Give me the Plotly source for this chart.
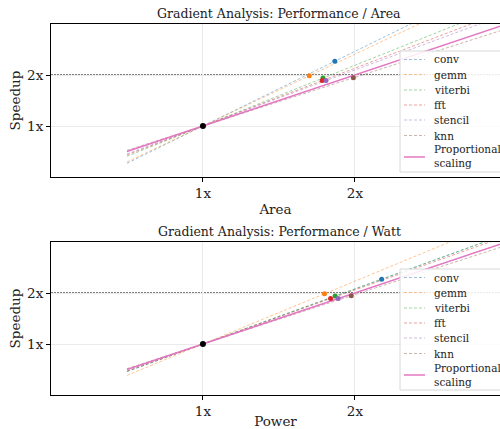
import numpy as np
import plotly.graph_objects as go

benchmarks = ["conv", "gemm", "viterbi", "fft", "stencil", "knn"]
colors = ["#1f77b4", "#ff7f0e", "#2ca02c", "#d62728", "#9467bd", "#8c564b"]
speedup = [2.27, 1.985, 1.94, 1.89, 1.89, 1.945]
area_ratio = [1.868, 1.70, 1.79, 1.785, 1.81, 1.99]
power_ratio = [2.176, 1.80, 1.87, 1.84, 1.89, 1.976]
tick_vals = [1, 2]
tick_text = ["1x", "2x"]
line_x = [0.5, 3.0]
target_speedup = 2.0
prop_color = "#e377c2"
prop_label = "Proportional<br>scaling"

FONT = "DejaVu Serif"
W, H = 500, 429
ML, MR, MT, MB = 51, 0, 24, 34
PW, PH = W - ML - MR, H - MT - MB
LINE_ALPHA = 0.45


def px2paper_x(px):
    return (px - ML) / PW


def px2paper_y(py):
    return (H - MB - py) / PH


fig = go.Figure()


def rgba(hexc, a):
    h = hexc.lstrip("#")
    r, g, b = int(h[0:2], 16), int(h[2:4], 16), int(h[4:6], 16)
    return f"rgba({r},{g},{b},{a})"


def add_panel(ratios, xa, ya):
    xs = np.array(line_x)
    for name, c, s, r in zip(benchmarks, colors, speedup, ratios):
        slope = (s - 1.0) / (r - 1.0)
        ys = 1.0 + slope * (xs - 1.0)
        fig.add_trace(go.Scatter(
            x=xs, y=ys, mode="lines", name=name, showlegend=False,
            line=dict(color=rgba(c, LINE_ALPHA), width=1, dash="3px,2px"),
            xaxis=xa, yaxis=ya))
    fig.add_trace(go.Scatter(
        x=xs, y=xs, mode="lines", name="Proportional scaling", showlegend=False,
        line=dict(color=prop_color, width=1.5),
        xaxis=xa, yaxis=ya))
    for name, c, s, r in zip(benchmarks, colors, speedup, ratios):
        fig.add_trace(go.Scatter(
            x=[r], y=[s], mode="markers", showlegend=False,
            marker=dict(color=c, size=5),
            xaxis=xa, yaxis=ya))
    fig.add_trace(go.Scatter(
        x=[1], y=[1], mode="markers", showlegend=False,
        marker=dict(color="black", size=6),
        xaxis=xa, yaxis=ya))


add_panel(area_ratio, "x", "y")
add_panel(power_ratio, "x2", "y2")

shapes = []
annotations = []

# reference line at target speedup
for xr, yr in (("x domain", "y"), ("x2 domain", "y2")):
    shapes.append(dict(type="line", xref=xr, yref=yr, x0=0, x1=1,
                       y0=target_speedup, y1=target_speedup,
                       line=dict(color="rgba(0,0,0,0.5)", width=2, dash="2px,1px"),
                       layer="below"))

# hand-built legends (one per panel), matching matplotlib's compact layout
for off in (0, 218):
    top, bot = 51 + off, 172 + off
    shapes.append(dict(type="rect", xref="paper", yref="paper",
                       x0=px2paper_x(400), x1=px2paper_x(510),
                       y0=px2paper_y(bot), y1=px2paper_y(top),
                       fillcolor="rgba(255,255,255,0.85)",
                       line=dict(color="#d8d8d8", width=1), layer="above"))
    item_y = [59.5, 74.5, 90, 105, 120, 135.5]
    for name, c, yy in zip(benchmarks, colors, item_y):
        shapes.append(dict(type="line", xref="paper", yref="paper",
                           x0=px2paper_x(404), x1=px2paper_x(425),
                           y0=px2paper_y(yy + off), y1=px2paper_y(yy + off),
                           line=dict(color=rgba(c, LINE_ALPHA), width=1, dash="3px,2px"),
                           layer="above"))
        annotations.append(dict(text=name, xref="paper", yref="paper",
                                x=px2paper_x(432), y=px2paper_y(yy + off),
                                xanchor="left", yanchor="middle", showarrow=False,
                                font=dict(family=FONT, size=10.5, color="#222")))
    shapes.append(dict(type="line", xref="paper", yref="paper",
                       x0=px2paper_x(404), x1=px2paper_x(425),
                       y0=px2paper_y(157 + off), y1=px2paper_y(157 + off),
                       line=dict(color=prop_color, width=1.5), layer="above"))
    annotations.append(dict(text=prop_label, xref="paper", yref="paper",
                            x=px2paper_x(432), y=px2paper_y(156.5 + off),
                            xanchor="left", yanchor="middle", showarrow=False,
                            align="left",
                            font=dict(family=FONT, size=10.5, color="#222")))

axis_common = dict(
    tickvals=tick_vals, ticktext=tick_text,
    showgrid=True, gridcolor="#ebebeb", gridwidth=1,
    showline=True, linecolor="black", linewidth=1,
    ticks="outside", ticklen=4, tickcolor="black",
    zeroline=False, automargin=False,
    tickfont=dict(family=FONT, size=13.5, color="#222"),
)

top_dom = [px2paper_y(177), 1.0]
bot_dom = [0.0, px2paper_y(242)]

annotations += [
    dict(text="Gradient Analysis: Performance / Area", xref="paper", yref="paper",
         x=px2paper_x(279), y=top_dom[1], xanchor="center", yanchor="bottom", yshift=1,
         showarrow=False, font=dict(family=FONT, size=12.5, color="#222")),
    dict(text="Gradient Analysis: Performance / Watt", xref="paper", yref="paper",
         x=px2paper_x(279), y=bot_dom[1], xanchor="center", yanchor="bottom", yshift=1,
         showarrow=False, font=dict(family=FONT, size=12.5, color="#222")),
]

fig.update_layout(
    width=W, height=H,
    margin=dict(l=ML, r=MR, t=MT, b=MB, autoexpand=False),
    paper_bgcolor="white", plot_bgcolor="white",
    font=dict(family=FONT, color="#222"),
    showlegend=False,
    xaxis=dict(**axis_common, range=[0, 2.955], domain=[0, 1], anchor="y",
               mirror=True,
               title=dict(text="Area", font=dict(family=FONT, size=13.5), standoff=4)),
    yaxis=dict(**axis_common, range=[0, 3], domain=top_dom, anchor="x",
               title=dict(text="Speedup", font=dict(family=FONT, size=13.5), standoff=3)),
    xaxis2=dict(**axis_common, range=[0, 2.955], domain=[0, 1], anchor="y2",
                mirror=True,
                title=dict(text="Power", font=dict(family=FONT, size=13.5), standoff=9)),
    yaxis2=dict(**axis_common, range=[0, 3], domain=bot_dom, anchor="x2",
                title=dict(text="Speedup", font=dict(family=FONT, size=13.5), standoff=3)),
    shapes=shapes,
    annotations=annotations,
)

fig.write_html("out.html",
               config={"displayModeBar": False},
               post_script="document.body.style.margin='0';document.body.style.padding='0';")
